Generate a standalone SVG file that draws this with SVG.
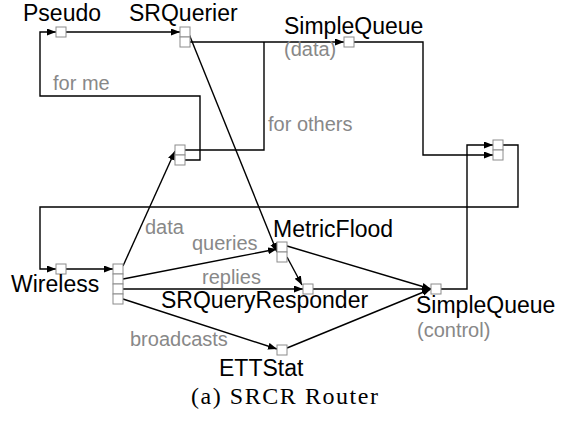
<svg xmlns="http://www.w3.org/2000/svg" width="562" height="421" viewBox="0 0 562 421">
<style>
.port{fill:#fff;stroke:#8c8c8c;stroke-width:1}
.lbl{font-family:"Liberation Sans",Arial,sans-serif;font-size:23px;fill:#000}
.sub{font-family:"Liberation Sans",Arial,sans-serif;font-size:20px;fill:#888}
.cap{font-family:"Liberation Serif","Times New Roman",serif;font-size:24px;fill:#000}
.ln{fill:none;stroke:#000;stroke-width:1.4}
.arr{marker-end:url(#ah)}
</style>
<defs>
<marker id="ah" markerUnits="userSpaceOnUse" markerWidth="10" markerHeight="8" refX="9" refY="3.5" orient="auto">
<path d="M0,0 L9,3.5 L0,7 z" fill="#000"/>
</marker>
</defs>
<rect width="562" height="421" fill="#fff"/>
<g id="connectors">
<path class="ln arr" d="M66,32 H180"/>
<path class="ln arr" d="M189,34 L277,252"/>
<path class="ln arr" d="M190,42 H344"/>
<path class="ln arr" d="M354,42 H423 V155 H493"/>
<path class="ln arr" d="M441,289 H467 V145 H493"/>
<path class="ln arr" d="M503,145 H518 V207 H40 V269 H56"/>
<path class="ln arr" d="M66,269 H113"/>
<path class="ln arr" d="M123,266 L175,151"/>
<path class="ln" d="M185,150 H264 V42"/>
<path class="ln arr" d="M185,160 H200 V96 H40 V32 H56"/>
<path class="ln arr" d="M123,279 L277,249"/>
<path class="ln arr" d="M123,289 H303"/>
<path class="ln arr" d="M123,299 L277,349"/>
<path class="ln arr" d="M287,246 L431,289"/>
<path class="ln arr" d="M287,257 L302,285"/>
<path class="ln arr" d="M313,289 H431"/>
<path class="ln arr" d="M287,348 L431,289"/>
</g>
<g id="pseudo">
<rect class="port" x="56" y="27" width="10" height="10"/>
<text class="lbl" x="23" y="21">Pseudo</text>
</g>
<g id="srquerier">
<rect class="port" x="180" y="27" width="10" height="10"/>
<rect class="port" x="180" y="37" width="10" height="10"/>
<text class="lbl" x="129" y="21">SRQuerier</text>
</g>
<g id="simplequeue-data">
<rect class="port" x="344" y="37" width="10" height="10"/>
<text class="lbl" x="284" y="34">SimpleQueue</text>
<text class="sub" x="284" y="56">(data)</text>
</g>
<g id="scheduler">
<rect class="port" x="493" y="140" width="10" height="10"/>
<rect class="port" x="493" y="150" width="10" height="10"/>
</g>
<g id="host-classifier">
<rect class="port" x="175" y="145" width="10" height="10"/>
<rect class="port" x="175" y="155" width="10" height="10"/>
<text class="sub" x="53" y="90">for me</text>
<text class="sub" x="268" y="131">for others</text>
</g>
<g id="wireless">
<rect class="port" x="56" y="264" width="10" height="10"/>
<text class="lbl" x="11" y="292">Wireless</text>
</g>
<g id="classifier">
<rect class="port" x="113" y="264" width="10" height="10"/>
<rect class="port" x="113" y="274" width="10" height="10"/>
<rect class="port" x="113" y="284" width="10" height="10"/>
<rect class="port" x="113" y="294" width="10" height="10"/>
<text class="sub" x="145" y="234">data</text>
<text class="sub" x="192" y="250">queries</text>
<text class="sub" x="202" y="284">replies</text>
<text class="sub" x="130" y="346">broadcasts</text>
</g>
<g id="metricflood">
<rect class="port" x="277" y="242" width="10" height="10"/>
<rect class="port" x="277" y="252" width="10" height="10"/>
<text class="lbl" x="273" y="237">MetricFlood</text>
</g>
<g id="srqueryresponder">
<rect class="port" x="303" y="284" width="10" height="10"/>
<text class="lbl" x="161" y="308">SRQueryResponder</text>
</g>
<g id="simplequeue-control">
<rect class="port" x="431" y="284" width="10" height="10"/>
<text class="lbl" x="416" y="313">SimpleQueue</text>
<text class="sub" x="417" y="337">(control)</text>
</g>
<g id="ettstat">
<rect class="port" x="277" y="345" width="10" height="10"/>
<text class="lbl" x="219" y="376">ETTStat</text>
</g>
<text class="cap" x="191" y="404" textLength="187" lengthAdjust="spacing">(a) SRCR Router</text>
</svg>
